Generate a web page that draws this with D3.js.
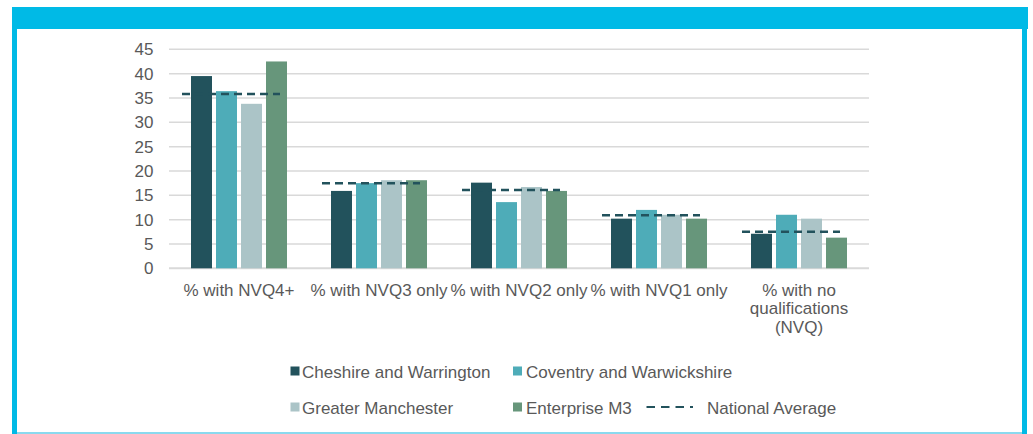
<!DOCTYPE html>
<html><head><meta charset="utf-8">
<script src="https://cdn.jsdelivr.net/npm/d3@7"></script>
<style>html,body{margin:0;padding:0;background:#fff;}svg{display:block;}</style>
</head><body>
<svg id="chart" width="1033" height="434"></svg>
<script>
const categories = ["% with NVQ4+", "% with NVQ3 only", "% with NVQ2 only", "% with NVQ1 only", "% with no\nqualifications\n(NVQ)"];
const seriesNames = ["Cheshire and Warrington", "Coventry and Warwickshire", "Greater Manchester", "Enterprise M3"];
const cheshire = [39.5, 15.9, 17.6, 10.2, 7.1];
const coventry = [36.4, 17.5, 13.6, 12.0, 11.0];
const manchester = [33.8, 18.1, 16.7, 11.0, 10.2];
const enterpriseM3 = [42.5, 18.1, 15.9, 10.2, 6.3];
const nationalAverage = [35.8, 17.5, 16.1, 10.9, 7.5];
const yTicks = [0, 5, 10, 15, 20, 25, 30, 35, 40, 45];
const colors = ["#22525C", "#4EACB8", "#ABC4C7", "#67967B"];
const avgColor = "#22525C";

const seriesValues = [cheshire, coventry, manchester, enterpriseM3];
const svg = d3.select("#chart");
const font = "'Liberation Sans', Arial, sans-serif";
const textColor = "#595959";
const fs = "17px";

// frame
const frameColor = "#00BAE6";
svg.append("rect").attr("x", 12).attr("y", 7).attr("width", 1016).attr("height", 22).attr("fill", frameColor);
svg.append("rect").attr("x", 12).attr("y", 7).attr("width", 5).attr("height", 427).attr("fill", frameColor);
svg.append("rect").attr("x", 1022).attr("y", 7).attr("width", 5).attr("height", 427).attr("fill", frameColor);
svg.append("rect").attr("x", 17).attr("y", 432).attr("width", 1005).attr("height", 2).attr("fill", "#8ad9ee");

const x = d3.scaleBand().domain(categories).range([169, 869]).padding(0);
const y = d3.scaleLinear().domain([0, 45]).range([268.3, 49.3]);
const xs = d3.scaleBand().domain(seriesNames).range([-48, 48]).paddingInner(0.16).paddingOuter(0);

// gridlines
const grid = svg.append("g");
grid.selectAll("line").data(yTicks).join("line")
  .attr("x1", 169).attr("x2", 869)
  .attr("y1", d => y(d)).attr("y2", d => y(d))
  .attr("stroke", "#D9D9D9").attr("stroke-width", d => d === 0 ? 2 : 1.5);

// y axis labels
const yAxis = d3.axisLeft(y).tickValues(yTicks).tickSize(0).tickPadding(0);
const yg = svg.append("g").attr("transform", "translate(153.5,0)").call(yAxis);
yg.select(".domain").remove();
yg.selectAll("text").attr("font-family", font).attr("font-size", fs).attr("fill", textColor);

// bars
seriesNames.forEach((s, si) => {
  svg.append("g").selectAll("rect").data(seriesValues[si]).join("rect")
    .attr("x", (d, i) => x(categories[i]) + x.bandwidth() / 2 + xs(s))
    .attr("y", d => y(d))
    .attr("width", xs.bandwidth())
    .attr("height", d => y(0) - y(d))
    .attr("fill", colors[si]);
});

// national average dashed segments
svg.append("g").selectAll("line").data(nationalAverage).join("line")
  .attr("x1", (d, i) => x(categories[i]) + x.bandwidth() / 2 - 57)
  .attr("x2", (d, i) => x(categories[i]) + x.bandwidth() / 2 + 41)
  .attr("y1", d => y(d)).attr("y2", d => y(d))
  .attr("stroke", avgColor).attr("stroke-width", 2.5).attr("stroke-dasharray", "8,5");

// x labels
const xl = svg.append("g");
categories.forEach(c => {
  const lines = c.split("\n");
  const t = xl.append("text").attr("text-anchor", "middle")
    .attr("font-family", font).attr("font-size", fs).attr("fill", textColor);
  lines.forEach((ln, li) => {
    t.append("tspan").attr("x", x(c) + x.bandwidth() / 2).attr("y", 295.5 + li * 18.7).text(ln);
  });
});

// legend
const legendItems = [
  {name: seriesNames[0], color: colors[0], x: 290.5, y: 371, tx: 302},
  {name: seriesNames[1], color: colors[1], x: 513, y: 371, tx: 526},
  {name: seriesNames[2], color: colors[2], x: 290.5, y: 407, tx: 302},
  {name: seriesNames[3], color: colors[3], x: 513, y: 407, tx: 526}
];
const lg = svg.append("g");
legendItems.forEach(it => {
  lg.append("rect").attr("x", it.x).attr("y", it.y - 4.5).attr("width", 9).attr("height", 9).attr("fill", it.color);
  lg.append("text").attr("x", it.tx).attr("y", it.y + 7)
    .attr("font-family", font).attr("font-size", fs).attr("fill", textColor).text(it.name);
});
lg.append("line").attr("x1", 646.5).attr("x2", 693).attr("y1", 407).attr("y2", 407)
  .attr("stroke", avgColor).attr("stroke-width", 2).attr("stroke-dasharray", "8.5,6");
lg.append("text").attr("x", 707).attr("y", 414)
  .attr("font-family", font).attr("font-size", fs).attr("fill", textColor).text("National Average");
</script>
</body></html>
